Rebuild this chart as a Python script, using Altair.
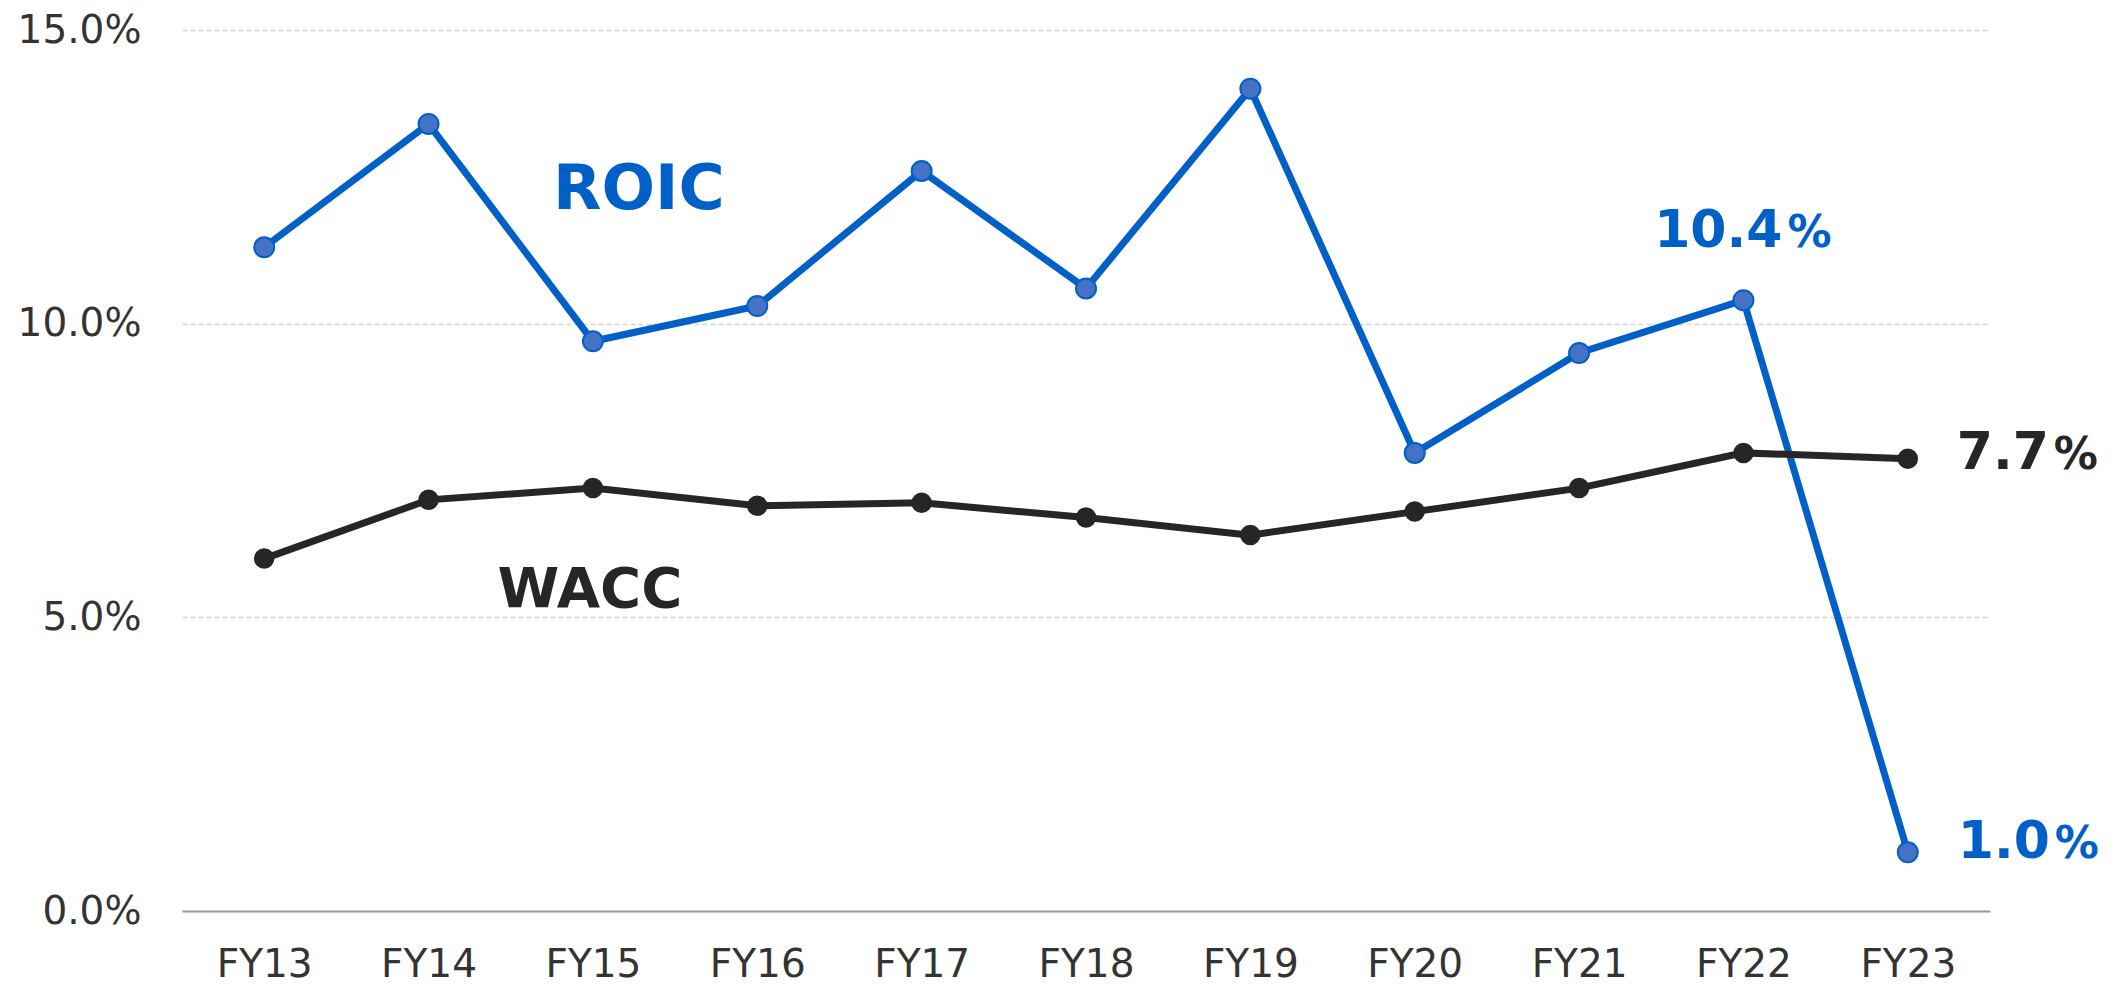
import altair as alt
import pandas as pd

years = ["FY13", "FY14", "FY15", "FY16", "FY17", "FY18", "FY19", "FY20", "FY21", "FY22", "FY23"]
roic = [11.3, 13.4, 9.7, 10.3, 12.6, 10.6, 14.0, 7.8, 9.5, 10.4, 1.0]
wacc = [6.0, 7.0, 7.2, 6.9, 6.95, 6.7, 6.4, 6.8, 7.2, 7.8, 7.7]
y_ticks = [0, 5, 10, 15]

series_names = ["ROIC", "WACC"]
series_colors = ["#0060C8", "#262626"]

rows = []
for y, r, w in zip(years, roic, wacc):
    rows.append({"year": y, "series": "ROIC", "value": r})
    rows.append({"year": y, "series": "WACC", "value": w})
df = pd.DataFrame(rows)

# series name annotations (category anchor + value)
name_df = pd.DataFrame({
    "text": ["ROIC", "WACC"],
    "year": ["FY15", "FY15"],
    "value": [11.95, 5.18],
})

FONT = "DejaVu Sans"

x = alt.X(
    "year:O",
    sort=years,
    scale=alt.Scale(type="point", padding=0.5),
    axis=alt.Axis(
        title=None, labelAngle=0, ticks=False, domain=True, domainColor="#9a9a9a",
        domainWidth=2, labelFontSize=39, labelFont=FONT, labelColor="#333333",
        labelPadding=34, grid=False,
    ),
)
y = alt.Y(
    "value:Q",
    scale=alt.Scale(domain=[0, 15], nice=False, zero=True),
    axis=alt.Axis(
        title=None, values=y_ticks, labelExpr="format(datum.value, '.1f') + '%'",
        domain=False, ticks=False, grid=True, gridColor="#d4d4d4", gridDash=[5, 3],
        gridWidth=1.5, labelFontSize=39, labelFont=FONT, labelColor="#333333",
        labelPadding=41,
    ),
)

base = alt.Chart(df).encode(x=x, y=y)

lines = base.mark_line(strokeWidth=7).encode(
    color=alt.Color("series:N", scale=alt.Scale(domain=series_names, range=series_colors), legend=None)
)

roic_pts = base.transform_filter(alt.datum.series == "ROIC").mark_circle(
    size=400, color="#4472C4", stroke="#0060C8", strokeWidth=2, opacity=1
)
wacc_pts = base.transform_filter(alt.datum.series == "WACC").mark_circle(
    size=420, color="#262626", opacity=1
)

name_base = alt.Chart(name_df).encode(x=alt.X("year:O", sort=years), y=alt.Y("value:Q"), text="text:N")
roic_name = name_base.transform_filter(alt.datum.text == "ROIC").mark_text(
    font=FONT, fontSize=63, fontWeight="bold", color="#0060C8", align="center", baseline="alphabetic", dx=46
)
wacc_name = name_base.transform_filter(alt.datum.text == "WACC").mark_text(
    font=FONT, fontSize=56, fontWeight="bold", color="#262626", align="center", baseline="alphabetic", dx=-3
)


def end_label(year, series, color, dx_num, dx_pct, dy):
    b = base.transform_filter((alt.datum.year == year) & (alt.datum.series == series))
    num = b.mark_text(font=FONT, fontSize=52, fontWeight="bold", color=color, align="right",
                      baseline="alphabetic", dx=dx_num, dy=dy).encode(text=alt.Text("value:Q", format=".1f"))
    pct = b.mark_text(font=FONT, fontSize=44, fontWeight="bold", color=color, align="left",
                      baseline="alphabetic", dx=dx_pct, dy=dy).encode(text=alt.value("%"))
    return num + pct


lab1 = end_label("FY22", "ROIC", "#0060C8", 39, 44, -53)
lab2 = end_label("FY23", "WACC", "#262626", 141, 146, 10)
lab3 = end_label("FY23", "ROIC", "#0060C8", 142, 147, 6)

chart = alt.layer(lines, roic_pts, wacc_pts, roic_name, wacc_name, lab1, lab2, lab3).properties(
    width=1808,
    height=881,
    autosize=alt.AutoSizeParams(type="none"),
    padding={"left": 174, "top": 22, "right": 120, "bottom": 78},
    background="white",
).configure_view(stroke=None)

chart.save("out.html", embed_options={"renderer": "svg", "actions": False})
